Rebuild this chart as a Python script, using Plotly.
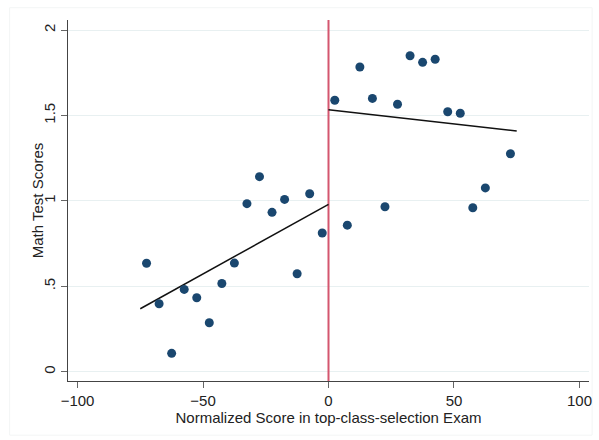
import plotly.graph_objects as go

# Binned means of math test scores by normalized exam score (5-point bins)
bin_x_left = [-72.5, -67.5, -62.5, -57.5, -52.5, -47.5, -42.5, -37.5,
              -32.5, -27.5, -22.5, -17.5, -12.5, -7.5, -2.5]
bin_y_left = [0.635, 0.398, 0.108, 0.482, 0.433, 0.287, 0.517, 0.636,
              0.984, 1.142, 0.933, 1.009, 0.574, 1.042, 0.812]

bin_x_right = [2.5, 7.5, 12.5, 17.5, 22.5, 27.5, 32.5, 37.5, 42.5,
               47.5, 52.5, 57.5, 62.5, 72.5]
bin_y_right = [1.589, 0.858, 1.784, 1.600, 0.966, 1.566, 1.850, 1.811,
               1.829, 1.522, 1.513, 0.960, 1.076, 1.276]

# Linear fits on each side of the cutoff
fit_left_x = [-75, 0]
fit_left_y = [0.369, 0.980]
fit_right_x = [0, 75]
fit_right_y = [1.534, 1.409]

cutoff = 0

x_ticks = [-100, -50, 0, 50, 100]
y_ticks = [0, 0.5, 1, 1.5, 2]
y_tick_text = ["0", ".5", "1", "1.5", "2"]

x_range = [-103.8, 103.8]
y_range = [-0.054, 2.059]

navy = "#1a476f"
font_family = "Liberation Sans, Arial, sans-serif"

fig = go.Figure()

fig.add_trace(go.Scatter(
    x=[cutoff, cutoff], y=y_range, mode="lines",
    line=dict(color="#d4566f", width=2), hoverinfo="skip", showlegend=False,
))

for fx, fy in [(fit_left_x, fit_left_y), (fit_right_x, fit_right_y)]:
    fig.add_trace(go.Scatter(
        x=fx, y=fy, mode="lines",
        line=dict(color="#111111", width=1.5), showlegend=False,
    ))

fig.add_trace(go.Scatter(
    x=bin_x_left + bin_x_right, y=bin_y_left + bin_y_right, mode="markers",
    marker=dict(color=navy, size=9, line=dict(width=0)), showlegend=False,
))

fig.update_layout(
    width=599, height=440,
    margin=dict(l=67.5, r=7, t=20, b=59),
    paper_bgcolor="white", plot_bgcolor="white",
    font=dict(family=font_family, size=15, color="#222222"),
    xaxis=dict(
        range=x_range, tickvals=x_ticks, showgrid=False, zeroline=False,
        showline=True, linecolor="#444444", linewidth=1.2,
        ticks="outside", ticklen=6, tickcolor="#666666",
        tickfont=dict(size=15),
        title=dict(text="Normalized Score in top-class-selection Exam",
                   font=dict(size=15), standoff=1),
    ),
    yaxis=dict(
        range=y_range, tickvals=y_ticks, ticktext=y_tick_text,
        showgrid=True, gridcolor="#e8f0f1", gridwidth=1.2, zeroline=False,
        showline=True, linecolor="#444444", linewidth=1.2,
        ticks="outside", ticklen=6, tickcolor="#666666",
        tickangle=-90, tickfont=dict(size=15),
    ),
    annotations=[dict(
        text="Math Test Scores", xref="paper", yref="paper",
        x=-0.058, y=0.5, xanchor="center", yanchor="middle",
        textangle=-90, showarrow=False, font=dict(size=15),
    )],
    shapes=[dict(
        type="rect", xref="paper", yref="paper",
        x0=-0.112, x1=1.006, y0=-0.15, y1=1.034,
        line=dict(color="#f3f5f5", width=1), fillcolor="rgba(0,0,0,0)",
        layer="below",
    )],
)

fig.write_html("out.html")
